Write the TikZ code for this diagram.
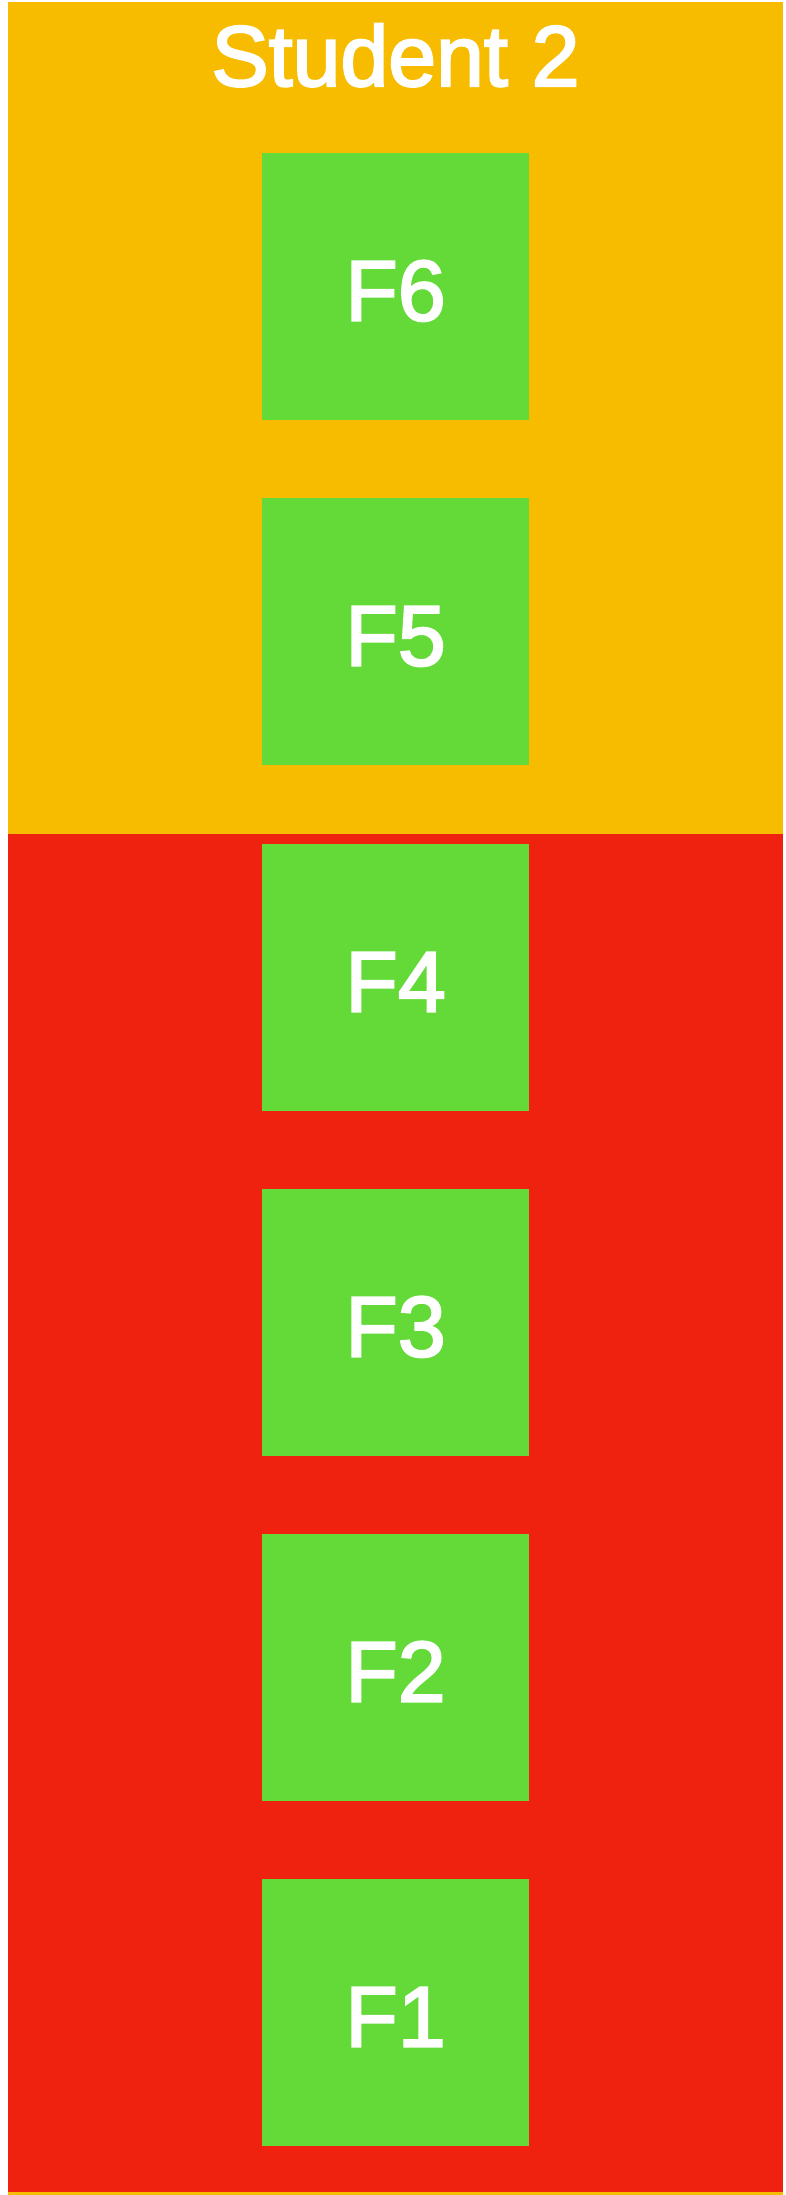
\documentclass[tikz,border=0pt]{standalone}
\usepackage{fontspec}
\setmainfont{Liberation Sans}
\newfontfamily\labelfont{Liberation Sans}[FakeBold=2.5]
\definecolor{stuyellow}{HTML}{F7BC00}
\definecolor{stured}{HTML}{EF2210}
\definecolor{stugreen}{HTML}{63DA38}
\begin{document}
\begin{tikzpicture}[x=1pt,y=-1pt,
  fbox/.style={fill=stugreen, draw=none, inner sep=0pt, minimum width=267pt, minimum height=267pt,
    text=white, font=\labelfont\fontsize{86}{86}\selectfont, text height=68pt, text depth=0pt},
  titletext/.style={text=white, font=\labelfont\fontsize{86}{86}\selectfont, inner sep=0pt}]
\useasboundingbox (0,0) rectangle (785,2195);
\fill[stuyellow] (8,2) rectangle (783,834);
\fill[stured] (8,834) rectangle (783,2192);
\fill[stuyellow] (8,2192) rectangle (783,2195);
\node[titletext, anchor=base] (title) at (395.5,86) {Student 2};
\node[fbox] (f6) at (395.5,286.5) {F6};
\node[fbox] (f5) at (395.5,631.5) {F5};
\node[fbox] (f4) at (395.5,977.5) {F4};
\node[fbox] (f3) at (395.5,1322.5) {F3};
\node[fbox] (f2) at (395.5,1667.5) {F2};
\node[fbox] (f1) at (395.5,2012.5) {F1};
\end{tikzpicture}
\end{document}
